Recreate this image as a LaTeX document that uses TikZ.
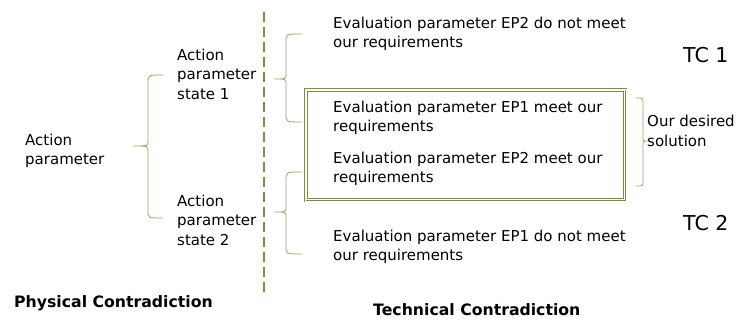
\documentclass[tikz,border=0pt]{standalone}
\usepackage{fontspec}
\setmainfont{DejaVu Sans}
\usetikzlibrary{calc}
\definecolor{olive}{HTML}{76923C}
\definecolor{leaf}{HTML}{8FAA62}
\begin{document}
\begin{tikzpicture}[x=1pt,y=-1pt,
  lbl/.style={anchor=west,inner sep=0pt,align=left,font=\fontsize{15}{19.5}\selectfont},
  title/.style={anchor=west,inner sep=0pt,font=\fontsize{15.7}{18}\selectfont\bfseries},
  tc/.style={anchor=west,inner sep=0pt,font=\fontsize{20.5}{24}\selectfont},
  bracket/.style={draw=leaf,line width=0.8pt}]
\useasboundingbox (0,0) rectangle (745,320);

% dividing line between the two kinds of contradiction
\coordinate (divtop) at (264,12);
\coordinate (divbot) at (264,297);
\draw[olive,line width=1.8pt,dash pattern=on 10pt off 5pt] (divtop) -- (divbot);

% texts
\node[lbl] (ap)  at (25,151) {Action\\parameter};
\node[lbl] (s1)  at (177,74) {Action\\parameter\\state 1};
\node[lbl] (s2)  at (177,220) {Action\\parameter\\state 2};
\node[lbl] (e2n) at (333,34) {Evaluation parameter EP2 do not meet\\our requirements};
\node[lbl] (e1m) at (333,118) {Evaluation parameter EP1 meet our\\requirements};
\node[lbl] (e2m) at (333,169) {Evaluation parameter EP2 meet our\\requirements};
\node[lbl] (e1n) at (333,247) {Evaluation parameter EP1 do not meet\\our requirements};
\node[lbl] (sol) at (647,131) {Our desired\\solution};
\node[tc] (tc1) at (683,55) {TC 1};
\node[tc] (tc2) at (683,223) {TC 2};
\node[title] (pc) at (14,303) {Physical Contradiction};
\node[title] (tcn) at (373,310) {Technical Contradiction};

% box around the desired pair of outcomes
\coordinate (boxa) at (305,89);
\coordinate (boxb) at (626,201);
\draw[olive,line width=2.8pt] (boxa) rectangle (boxb);
\draw[white,line width=0.8pt] (boxa) rectangle (boxb);
\draw[olive,line width=0.7pt] ($(boxa)+(2.5,2.5)$) rectangle ($(boxb)+(-2.5,-2.5)$);

% left curly brackets: arm end x, spine x, tip x, top y, tip y, bottom y
\newcommand\curlyleft[6]{%
  \draw[bracket] (#1,#4) .. controls (#2,#4) .. (#2,#4+8) -- (#2,#5-5)
    .. controls (#2,#5) .. (#3,#5) .. controls (#2,#5) .. (#2,#5+5)
    -- (#2,#6-8) .. controls (#2,#6) .. (#1,#6);}
\curlyleft{163}{148}{133}{75}{146}{218}
\curlyleft{302}{286}{274}{34}{79}{122}
\curlyleft{302}{286}{274}{172}{212}{254}

% right curly bracket beside the box
\draw[bracket] (636,98) .. controls (643,98) .. (643,103) -- (643,137)
  .. controls (643,141) .. (648,141) .. controls (643,141) .. (643,145)
  -- (643,181) .. controls (643,186) .. (636,186);
\end{tikzpicture}
\end{document}
